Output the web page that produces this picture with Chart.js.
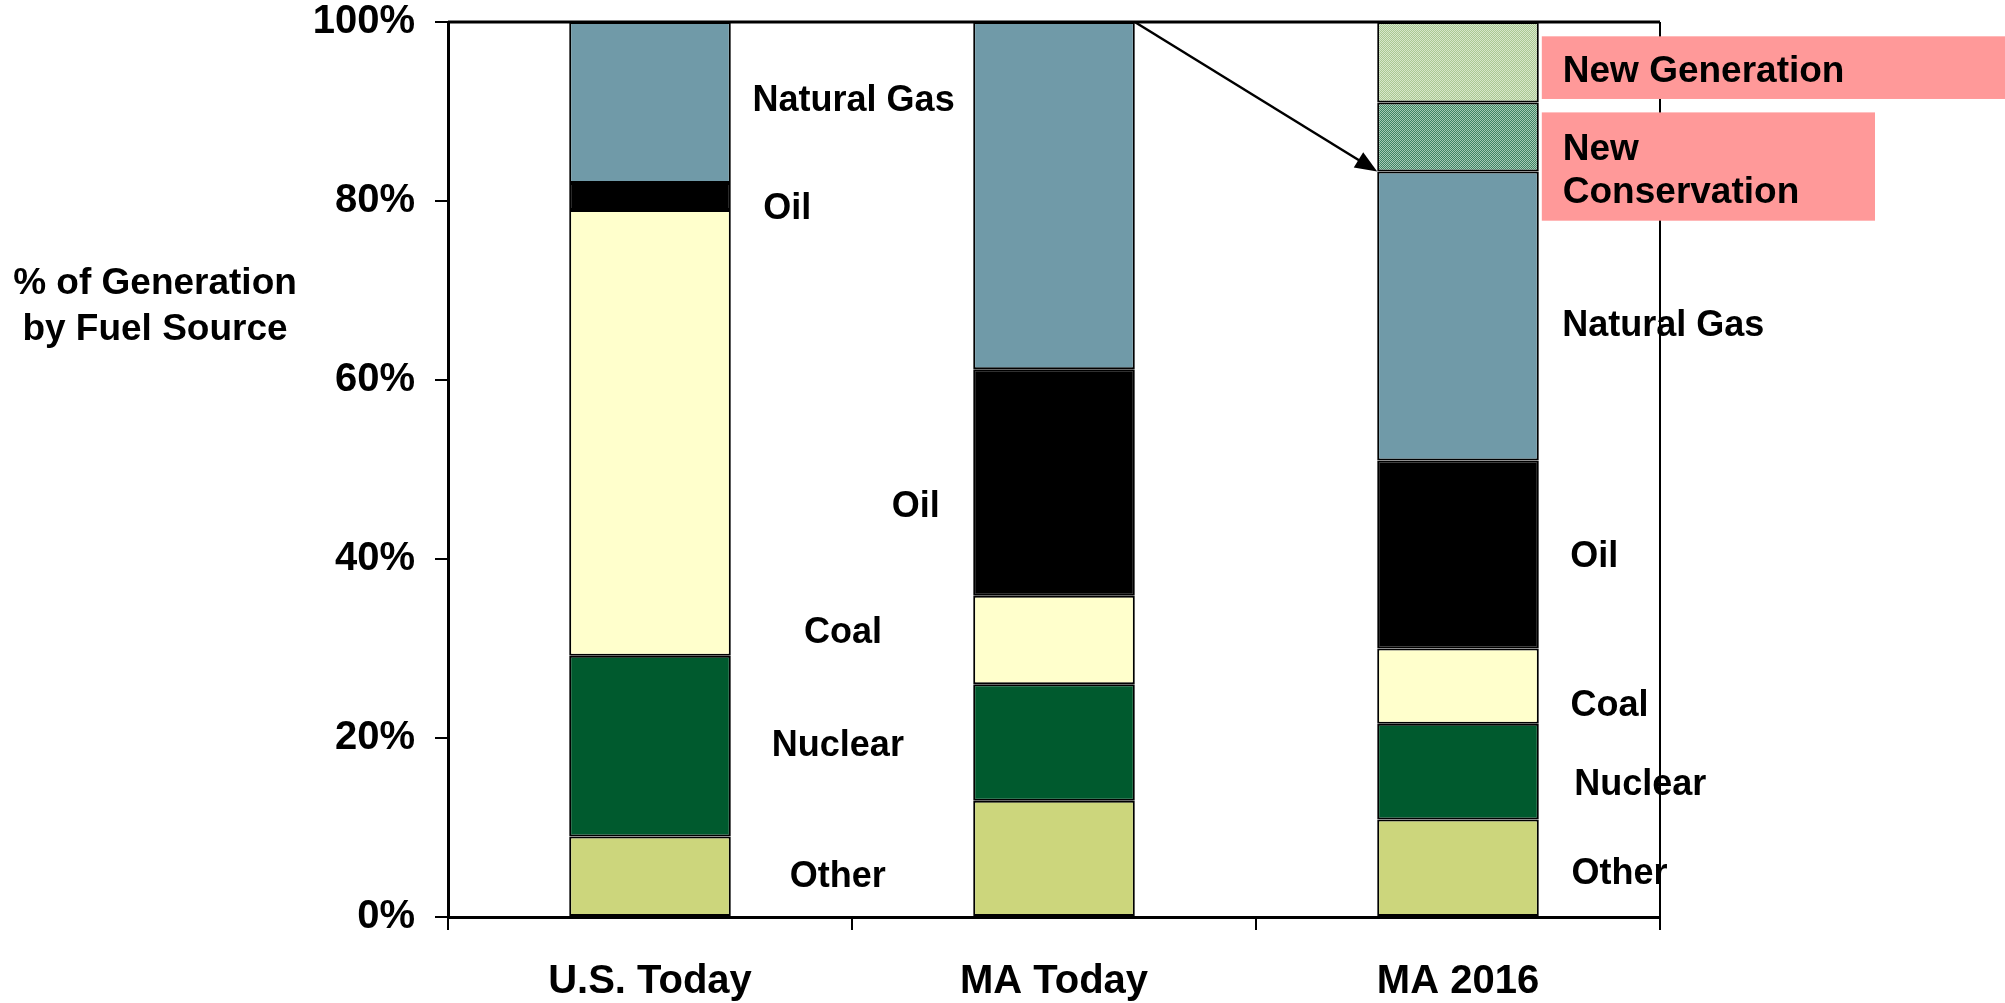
<!DOCTYPE html>
<html lang="en">
<head>
    <meta charset="UTF-8">
    <title>% of Generation by Fuel Source</title>
    <script src="https://cdn.jsdelivr.net/npm/chart.js"></script>
    <style>
        body { margin: 0; background: #fff; }
        #wrap { width: 2005px; height: 1003px; }
    </style>
</head>
<body>

<div id="wrap">
    <canvas id="fuelChart" width="2005" height="1003"></canvas>
</div>

<script>
// Categories and series (percent of generation)
const categories = ['U.S. Today', 'MA Today', 'MA 2016'];

const otherVals        = [9.0, 13.0, 10.9];
const nuclearVals      = [20.2, 13.0, 10.7];
const coalVals         = [49.8, 9.9, 8.4];
const oilVals          = [3.0, 25.3, 21.0];
const gasVals          = [18.0, 38.8, 32.3];
const conservationVals = [null, null, 7.7];
const newGenVals       = [null, null, 9.0];

const yTicks = [0, 20, 40, 60, 80, 100];

// Text labels beside the bars: x is category position, y is percent
const segLabels = [
    { text: 'Natural Gas', x: 0.504, y: 91.6 },
    { text: 'Oil',         x: 0.340, y: 79.6 },
    { text: 'Coal',        x: 0.478, y: 32.2 },
    { text: 'Nuclear',     x: 0.465, y: 19.6 },
    { text: 'Other',       x: 0.465, y: 4.9 },
    { text: 'Oil',         x: 0.658, y: 46.3 },
    { text: 'Natural Gas', x: 2.508, y: 66.5 },
    { text: 'Oil',         x: 2.337, y: 40.7 },
    { text: 'Coal',        x: 2.375, y: 24.0 },
    { text: 'Nuclear',     x: 2.451, y: 15.2 },
    { text: 'Other',       x: 2.400, y: 5.2 }
];

const FONT = '"Liberation Sans", Arial, Helvetica, sans-serif';

// small dotted fill like the original shaded bars
function dotPattern(base, dot) {
    const c = document.createElement('canvas');
    c.width = 2; c.height = 2;
    const g = c.getContext('2d');
    g.fillStyle = base; g.fillRect(0, 0, 2, 2);
    g.fillStyle = dot; g.fillRect(0, 0, 1, 1); g.fillRect(1, 1, 1, 1);
    return g.createPattern(c, 'repeat');
}

const ctx = document.getElementById('fuelChart').getContext('2d');

const annotations = {
    id: 'annotations',
    afterDraw(chart) {
        const c = chart.ctx;
        const xs = chart.scales.x, ys = chart.scales.y;
        const area = chart.chartArea;

        // box: top and right border
        c.save();
        c.strokeStyle = '#000';
        c.lineWidth = 3;
        c.beginPath();
        c.moveTo(area.left, area.top);
        c.lineTo(area.right, area.top);
        c.stroke();
        c.lineWidth = 2;
        c.beginPath();
        c.moveTo(area.right, area.top);
        c.lineTo(area.right, area.bottom);
        c.stroke();

        // segment labels
        c.fillStyle = '#000';
        c.font = 'bold 36px ' + FONT;
        c.textAlign = 'center';
        c.textBaseline = 'middle';
        segLabels.forEach(l => {
            c.fillText(l.text, xs.getPixelForValue(l.x), ys.getPixelForValue(l.y) + 4);
        });

        // y axis title (horizontal)
        c.font = 'bold 37px ' + FONT;
        c.fillText('% of Generation', 155, 284);
        c.fillText('by Fuel Source', 155, 330);

        // arrow from MA Today top to MA 2016 gas top
        const bar2 = chart.getDatasetMeta(4).data[1];
        const bar3 = chart.getDatasetMeta(4).data[2];
        const x1 = bar2.x + bar2.width / 2, y1 = ys.getPixelForValue(100);
        const x2 = bar3.x - bar3.width / 2, y2 = ys.getPixelForValue(83.3);
        const ang = Math.atan2(y2 - y1, x2 - x1);
        const head = 22;
        c.lineWidth = 2.5;
        c.beginPath();
        c.moveTo(x1, y1);
        c.lineTo(x2 - head * 0.8 * Math.cos(ang), y2 - head * 0.8 * Math.sin(ang));
        c.stroke();
        c.beginPath();
        c.moveTo(x2, y2);
        c.lineTo(x2 - head * Math.cos(ang) + 9 * Math.sin(ang), y2 - head * Math.sin(ang) - 9 * Math.cos(ang));
        c.lineTo(x2 - head * Math.cos(ang) - 9 * Math.sin(ang), y2 - head * Math.sin(ang) + 9 * Math.cos(ang));
        c.closePath();
        c.fill();

        // pink call-out boxes
        const bx = bar3.x + bar3.width / 2 + 3;
        c.fillStyle = '#FF9999';
        const g1 = ys.getPixelForValue(98.4), g2 = ys.getPixelForValue(91.4);
        c.fillRect(bx, g1, chart.width - bx, g2 - g1);
        const k1 = ys.getPixelForValue(89.9), k2 = ys.getPixelForValue(77.8);
        c.fillRect(bx, k1, 1875 - bx, k2 - k1);

        c.fillStyle = '#000';
        c.font = 'bold 37px ' + FONT;
        c.textAlign = 'left';
        c.fillText('New Generation', bx + 21, (g1 + g2) / 2 + 4);
        c.fillText('New', bx + 21, k1 + 37);
        c.fillText('Conservation', bx + 21, k1 + 80);
        c.restore();
    }
};

function ds(label, data, color) {
    return {
        label: label,
        data: data,
        backgroundColor: color,
        borderColor: '#000',
        borderWidth: 2,
        borderSkipped: false,
        categoryPercentage: 1.0,
        barPercentage: 0.4
    };
}

new Chart(ctx, {
    type: 'bar',
    data: {
        labels: categories,
        datasets: [
            ds('Other', otherVals, '#CCD67C'),
            ds('Nuclear', nuclearVals, '#005A2E'),
            ds('Coal', coalVals, '#FFFFCC'),
            ds('Oil', oilVals, '#000000'),
            ds('Natural Gas', gasVals, '#709AA8'),
            ds('New Conservation', conservationVals, dotPattern('#3F8463', '#A6CBB6')),
            ds('New Generation', newGenVals, dotPattern('#A9C893', '#D8E7CB'))
        ]
    },
    options: {
        responsive: false,
        animation: false,
        layout: { padding: { top: 22, right: 345, left: 0, bottom: 0 } },
        plugins: {
            legend: { display: false },
            tooltip: { enabled: false }
        },
        scales: {
            x: {
                stacked: true,
                afterFit(scale) {
                    scale.height = 86;
                    scale.paddingLeft = 0;
                    scale.paddingRight = 0;
                },
                grid: {
                    offset: true,
                    drawOnChartArea: false,
                    drawTicks: true,
                    tickLength: 13,
                    color: '#000',
                    lineWidth: 2
                },
                border: { display: true, color: '#000', width: 3 },
                ticks: {
                    color: '#000',
                    padding: 28,
                    font: { family: FONT, size: 40, weight: 'bold' }
                }
            },
            y: {
                stacked: true,
                min: 0,
                max: 100,
                afterFit(scale) {
                    scale.width = 448;
                    scale.paddingTop = 0;
                    scale.paddingBottom = 0;
                },
                afterBuildTicks(scale) { scale.ticks = yTicks.map(v => ({ value: v })); },
                grid: {
                    drawOnChartArea: false,
                    drawTicks: true,
                    tickLength: 13,
                    color: '#000',
                    lineWidth: 2
                },
                border: { display: true, color: '#000', width: 3 },
                ticks: {
                    color: '#000',
                    padding: 20,
                    font: { family: FONT, size: 40, weight: 'bold' },
                    callback: v => v + '%'
                }
            }
        }
    },
    plugins: [annotations]
});
</script>
</body>
</html>
